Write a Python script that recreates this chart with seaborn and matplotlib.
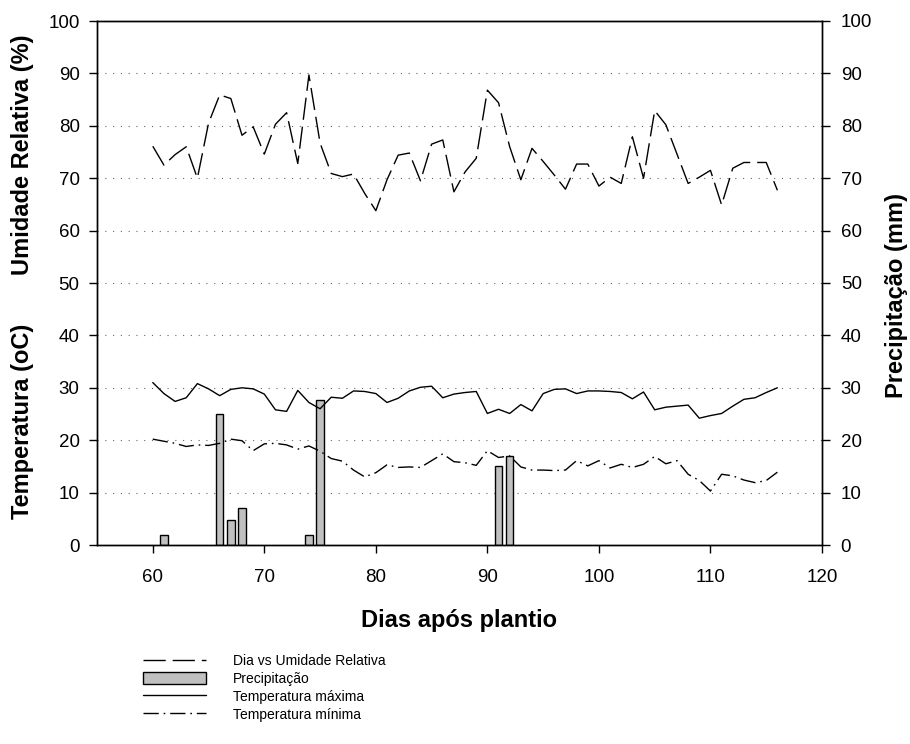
import matplotlib
matplotlib.use("Agg")
import matplotlib.pyplot as plt
import seaborn as sns
import pandas as pd
from matplotlib.lines import Line2D
from matplotlib.patches import Patch

# ---------------- data ----------------
days = list(range(60, 117))
umidade = [76.1, 72.5, 74.5, 76.0, 70.0, 80.5, 85.9, 85.2, 78.2, 79.8,
           74.6, 80.3, 82.5, 72.8, 89.7, 76.7, 70.9, 70.3, 70.8, 67.1,
           63.8, 69.7, 74.4, 74.8, 69.5, 76.5, 77.3, 67.4, 71.2, 73.8,
           86.8, 84.4, 76.0, 69.7, 75.7, 73.2, 70.6, 67.9, 72.7, 72.7,
           68.5, 70.2, 69.0, 77.9, 70.0, 82.9, 80.2, 74.6, 69.0, 70.2,
           71.5, 64.9, 71.9, 73.0, 73.0, 73.0, 67.7]
temp_max = [31.0, 28.9, 27.4, 28.1, 30.8, 29.8, 28.5, 29.7, 30.0, 29.8,
            28.8, 25.8, 25.5, 29.5, 27.2, 26.0, 28.2, 28.0, 29.4, 29.3,
            28.9, 27.2, 28.0, 29.4, 30.1, 30.3, 28.1, 28.8, 29.1, 29.3,
            25.1, 25.9, 25.1, 26.8, 25.6, 28.9, 29.7, 29.8, 28.9, 29.4,
            29.4, 29.3, 29.1, 27.9, 29.2, 25.8, 26.3, 26.5, 26.7, 24.2,
            24.7, 25.1, 26.5, 27.8, 28.1, 29.1, 30.0]
temp_min = [20.2, 19.8, 19.4, 18.8, 19.1, 19.0, 19.4, 20.2, 19.9, 18.0,
            19.3, 19.4, 19.1, 18.3, 18.9, 17.9, 16.5, 16.0, 14.3, 13.0,
            13.8, 15.3, 14.8, 14.9, 14.8, 16.1, 17.4, 15.9, 15.7, 15.2,
            18.0, 16.7, 17.0, 14.9, 14.3, 14.3, 14.2, 14.3, 16.1, 15.1,
            16.1, 14.7, 15.4, 14.8, 15.4, 16.9, 15.5, 16.1, 13.5, 12.3,
            10.3, 13.5, 13.2, 12.4, 11.9, 12.3, 13.9]
precip_days = [61, 66, 67, 68, 74, 75, 91, 92]
precip_mm = [2.0, 25.0, 4.8, 7.0, 2.0, 27.6, 15.0, 16.9]

x_ticks = [60, 70, 80, 90, 100, 110, 120]
y_ticks = [0, 10, 20, 30, 40, 50, 60, 70, 80, 90, 100]
legend_labels = ["Dia vs Umidade Relativa", "Precipitação",
                 "Temperatura máxima", "Temperatura mínima"]

# ---------------- style ----------------
sns.set_style("ticks")
plt.rcParams["font.family"] = ["Liberation Sans", "DejaVu Sans"]
plt.rcParams["text.color"] = "black"
plt.rcParams["axes.labelcolor"] = "black"

W, H = 910, 744
fig = plt.figure(figsize=(W / 100, H / 100), dpi=100)
ax = fig.add_axes([97 / W, 1 - 545 / H, (822 - 97) / W, (545 - 21) / H])
ax2 = ax.twinx()
ax.set_zorder(ax2.get_zorder() + 1)
ax.patch.set_visible(False)

dash_um = (0, (16, 5))
dash_min = (0, (11, 3.5, 1.2, 3.5))
lw = 1.0

# precipitation bars on right axis (below lines)
df_p = pd.DataFrame({"dia": precip_days, "mm": precip_mm})
sns.barplot(data=df_p, x="dia", y="mm", ax=ax2, native_scale=True,
            width=0.68, color="#c0c0c0", saturation=1, edgecolor="black",
            linewidth=1.0, errorbar=None, zorder=2)

df = pd.DataFrame({"dia": days, "um": umidade, "tmax": temp_max, "tmin": temp_min})
sns.lineplot(data=df, x="dia", y="um", ax=ax, color="black", lw=lw,
             linestyle=dash_um)
sns.lineplot(data=df, x="dia", y="tmax", ax=ax, color="black", lw=lw)
sns.lineplot(data=df, x="dia", y="tmin", ax=ax, color="black", lw=lw,
             linestyle=dash_min)

for a in (ax, ax2):
    a.set_xlim(55, 120)
    a.set_ylim(0, 100)
    a.set_yticks(y_ticks)
    for s in a.spines.values():
        s.set_visible(True)
        s.set_linewidth(1.0)
        s.set_color("black")
ax.set_xticks(x_ticks)

ax2.set_axisbelow(True)
ax2.yaxis.grid(True, linestyle=(0, (1, 6)), color="#666666", linewidth=0.8)
ax2.set_xlabel("")
ax2.set_ylabel("")
ax.set_ylabel("")

ax.tick_params(axis="y", direction="out", length=5.5, width=1.0,
               labelsize=13.5, pad=7, colors="black")
ax.tick_params(axis="x", direction="out", length=5.5, width=1.0,
               labelsize=13.5, pad=12, colors="black")
ax2.tick_params(axis="y", direction="out", length=5.5, width=1.0,
                labelsize=13.5, pad=8, colors="black")

ax.set_xlabel("Dias após plantio", fontsize=17, fontweight="bold",
              labelpad=16, color="black")

fig.text(23 / W, 1 - 155 / H, "Umidade Relativa (%)", rotation=90,
         fontsize=17, fontweight="bold", ha="center", va="center", color="black")
fig.text(23 / W, 1 - 421 / H, "Temperatura (oC)", rotation=90,
         fontsize=17, fontweight="bold", ha="center", va="center", color="black")
fig.text(896 / W, 1 - 296 / H, "Precipitação (mm)", rotation=90,
         fontsize=17, fontweight="bold", ha="center", va="center", color="black")

handles = [
    Line2D([], [], color="black", lw=lw, linestyle=dash_um),
    Patch(facecolor="#c0c0c0", edgecolor="black", linewidth=1.0),
    Line2D([], [], color="black", lw=lw),
    Line2D([], [], color="black", lw=lw, linestyle=dash_min),
]
fig.legend(handles, legend_labels, loc="upper left",
           bbox_to_anchor=(143 / W, 1 - 654 / H), frameon=False,
           handlelength=4.5, handleheight=1.0, handletextpad=2.0,
           labelspacing=0.28, fontsize=10, borderpad=0, borderaxespad=0,
           labelcolor="black")

fig.savefig("out.png", dpi=100)
